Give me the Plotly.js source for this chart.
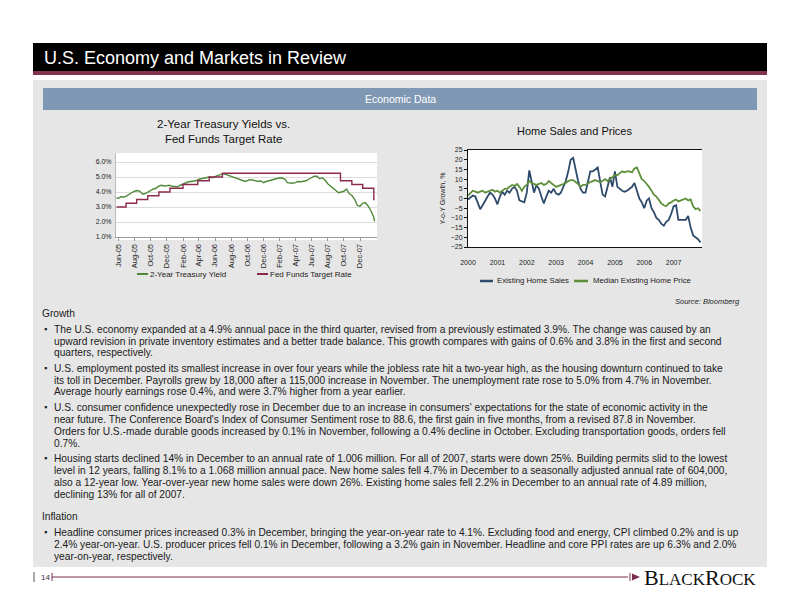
<!DOCTYPE html>
<html>
<head>
<meta charset="utf-8">
<script src="https://cdn.plot.ly/plotly-3.0.1.min.js"></script>
<style>html,body{margin:0;padding:0;background:#fff;}#chart{width:792px;height:612px;}</style>
</head>
<body>
<div id="chart"></div>
<script>
// ---------- Data: 2-Year Treasury vs Fed Funds ----------
const tsyDates = ["2005-05-25","2005-06-01","2005-06-11","2005-06-21","2005-07-01","2005-07-11","2005-07-21","2005-08-01","2005-08-11","2005-08-21","2005-09-01","2005-09-11","2005-09-21","2005-10-01","2005-10-11","2005-10-21","2005-11-01","2005-11-11","2005-11-21","2005-12-01","2005-12-11","2005-12-21","2006-01-01","2006-01-11","2006-01-21","2006-02-01","2006-02-11","2006-02-21","2006-03-01","2006-03-11","2006-03-21","2006-04-01","2006-04-11","2006-04-21","2006-05-01","2006-05-11","2006-05-21","2006-06-01","2006-06-11","2006-06-21","2006-07-01","2006-07-11","2006-07-21","2006-08-01","2006-08-11","2006-08-21","2006-09-01","2006-09-11","2006-09-21","2006-10-01","2006-10-11","2006-10-21","2006-11-01","2006-11-11","2006-11-21","2006-12-01","2006-12-11","2006-12-21","2007-01-01","2007-01-11","2007-01-21","2007-02-01","2007-02-11","2007-02-21","2007-03-01","2007-03-11","2007-03-21","2007-04-01","2007-04-11","2007-04-21","2007-05-01","2007-05-11","2007-05-21","2007-06-01","2007-06-11","2007-06-21","2007-07-01","2007-07-11","2007-07-21","2007-08-01","2007-08-11","2007-08-21","2007-09-01","2007-09-11","2007-09-21","2007-10-01","2007-10-11","2007-10-21","2007-11-01","2007-11-11","2007-11-21","2007-12-01","2007-12-11","2007-12-21","2008-01-01","2008-01-11","2008-01-21","2008-01-25"];
const tsyYield = [3.60,3.58,3.70,3.65,3.72,3.85,3.95,4.05,4.10,4.05,3.85,3.90,4.00,4.15,4.20,4.25,4.40,4.45,4.40,4.42,4.45,4.38,4.38,4.35,4.45,4.55,4.62,4.68,4.70,4.72,4.75,4.85,4.88,4.92,4.95,5.00,4.95,5.02,5.05,5.15,5.22,5.18,5.12,5.05,5.00,4.90,4.85,4.80,4.72,4.75,4.82,4.80,4.75,4.70,4.75,4.62,4.70,4.75,4.82,4.85,4.90,4.95,4.92,4.85,4.62,4.60,4.58,4.62,4.70,4.68,4.72,4.75,4.85,4.95,5.05,5.05,4.88,4.95,4.80,4.55,4.40,4.20,4.10,3.95,4.00,4.05,4.20,3.90,3.75,3.50,3.10,3.05,3.25,3.30,3.05,2.75,2.35,2.05];
const fedDates = ["2005-05-25","2005-06-30","2005-08-09","2005-09-20","2005-11-01","2005-12-13","2006-01-31","2006-03-28","2006-05-10","2006-06-29","2007-09-18","2007-10-31","2007-12-11","2008-01-22","2008-01-25"];
const fedRate = [3.00,3.25,3.50,3.75,4.00,4.25,4.50,4.75,5.00,5.25,4.75,4.50,4.25,3.50,3.50];
const leftTickVals = ["2005-06-01","2005-08-01","2005-10-01","2005-12-01","2006-02-01","2006-04-01","2006-06-01","2006-08-01","2006-10-01","2006-12-01","2007-02-01","2007-04-01","2007-06-01","2007-08-01","2007-10-01","2007-12-01"];
const leftTickText = ["Jun-05","Aug-05","Oct-05","Dec-05","Feb-06","Apr-06","Jun-06","Aug-06","Oct-06","Dec-06","Feb-07","Apr-07","Jun-07","Aug-07","Oct-07","Dec-07"];

// ---------- Data: Home Sales and Prices (Y-o-Y %) ----------
const months = ["2000-01-01","2000-02-01","2000-03-01","2000-04-01","2000-05-01","2000-06-01","2000-07-01","2000-08-01","2000-09-01","2000-10-01","2000-11-01","2000-12-01",
"2001-01-01","2001-02-01","2001-03-01","2001-04-01","2001-05-01","2001-06-01","2001-07-01","2001-08-01","2001-09-01","2001-10-01","2001-11-01","2001-12-01",
"2002-01-01","2002-02-01","2002-03-01","2002-04-01","2002-05-01","2002-06-01","2002-07-01","2002-08-01","2002-09-01","2002-10-01","2002-11-01","2002-12-01",
"2003-01-01","2003-02-01","2003-03-01","2003-04-01","2003-05-01","2003-06-01","2003-07-01","2003-08-01","2003-09-01","2003-10-01","2003-11-01","2003-12-01",
"2004-01-01","2004-02-01","2004-03-01","2004-04-01","2004-05-01","2004-06-01","2004-07-01","2004-08-01","2004-09-01","2004-10-01","2004-11-01","2004-12-01",
"2005-01-01","2005-02-01","2005-03-01","2005-04-01","2005-05-01","2005-06-01","2005-07-01","2005-08-01","2005-09-01","2005-10-01","2005-11-01","2005-12-01",
"2006-01-01","2006-02-01","2006-03-01","2006-04-01","2006-05-01","2006-06-01","2006-07-01","2006-08-01","2006-09-01","2006-10-01","2006-11-01","2006-12-01",
"2007-01-01","2007-02-01","2007-03-01","2007-04-01","2007-05-01","2007-06-01","2007-07-01","2007-08-01","2007-09-01","2007-10-01","2007-11-01","2007-12-01"];
const existingSales = [-0.5,0.5,1.5,1,-2,-5.5,-3.5,-1,1,3,2,0,
-3,1,3.5,2,4,3,5,6,4,-1,-1.5,-2,
3,14.5,9,3,7,5,1,-2.5,1,4,3,5,
2.5,2,3,6,9,14,20,21,14,9,5,3,
3,9,14,14,15,16,9,2,1,6,11,6,
14,6,5,4,3.5,4,5,6,8,4,0,-2,
-5,-1,0,-5,-7,-10,-11,-13,-14,-12,-11,-8,
-4,-3.5,-11,-11,-11,-11,-9,-15,-19,-20,-21,-22.6];
const medianPrice = [1.5,3,4,3.5,3,3.5,4,3,3.5,4,4.5,3.5,
4,3,4,5,5,6,7,6.5,7.5,6,4,6,
7,9,8,7.5,7,7.5,8,7,7.5,9,8,7,
6,6.5,7,7.5,8,9,9.5,9.5,8.5,7.5,6,7,
7,8,8.5,9,9.5,9,8.5,9,10,9,10,11,
12,12,13,14,13.5,14,14,13.5,15.5,16,13,10,
9,7.5,6,4,2,1,-1,-2.5,-3.5,-4,-2.5,-2,
-1,-0.5,-1.5,-1,-0.5,0,-1,-0.5,-4,-5.5,-5,-6.5];
const rightTickVals = ["2000-01-01","2001-01-01","2002-01-01","2003-01-01","2004-01-01","2005-01-01","2006-01-01","2007-01-01"];
const rightTickText = ["2000","2001","2002","2003","2004","2005","2006","2007"];

// ---------- Text ----------
const pageTitle = "U.S. Economy and Markets in Review";
const sectionTitle = "Economic Data";
const leftTitle = "2-Year Treasury Yields vs.<br>Fed Funds Target Rate";
const rightTitle = "Home Sales and Prices";
const seriesNames = ["2-Year Treasury Yield","Fed Funds Target Rate","Existing Home Sales","Median Existing Home Price"];
const paragraphs = [
 {head:"Growth"},
 {lines:["The U.S. economy expanded at a 4.9% annual pace in the third quarter, revised from a previously estimated 3.9%. The change was caused by an",
  "upward revision in private inventory estimates and a better trade balance. This growth compares with gains of 0.6% and 3.8% in the first and second",
  "quarters, respectively."]},
 {lines:["U.S. employment posted its smallest increase in over four years while the jobless rate hit a two-year high, as the housing downturn continued to take",
  "its toll in December. Payrolls grew by 18,000 after a 115,000 increase in November. The unemployment rate rose to 5.0% from 4.7% in November.",
  "Average hourly earnings rose 0.4%, and were 3.7% higher from a year earlier."]},
 {lines:["U.S. consumer confidence unexpectedly rose in December due to an increase in consumers' expectations for the state of economic activity in the",
  "near future. The Conference Board's Index of Consumer Sentiment rose to 88.6, the first gain in five months, from a revised 87.8 in November.",
  "Orders for U.S.-made durable goods increased by 0.1% in November, following a 0.4% decline in October. Excluding transportation goods, orders fell",
  "0.7%."]},
 {lines:["Housing starts declined 14% in December to an annual rate of 1.006 million. For all of 2007, starts were down 25%. Building permits slid to the lowest",
  "level in 12 years, falling 8.1% to a 1.068 million annual pace. New home sales fell 4.7% in December to a seasonally adjusted annual rate of 604,000,",
  "also a 12-year low. Year-over-year new home sales were down 26%. Existing home sales fell 2.2% in December to an annual rate of 4.89 million,",
  "declining 13% for all of 2007."]},
 {head:"Inflation"},
 {lines:["Headline consumer prices increased 0.3% in December, bringing the year-on-year rate to 4.1%. Excluding food and energy, CPI climbed 0.2% and is up",
  "2.4% year-on-year. U.S. producer prices fell 0.1% in December, following a 3.2% gain in November. Headline and core PPI rates are up 6.3% and 2.0%",
  "year-on-year, respectively."]}
];

// ---------- Layout helpers ----------
const W = 792, H = 612;
const px = x => x / W;
const py = y => 1 - y / H;
const FONT = "Liberation Sans, Arial, sans-serif";
const BODY = 10.2;
const C_GREEN = "#4e8a38", C_MAROON = "#8c2a4c", C_BLUE = "#2f4b6b", C_GREEN2 = "#5e8f3a";

function rect(x0,y0,x1,y1,fill){return {type:"rect",xref:"paper",yref:"paper",x0:px(x0),x1:px(x1),y0:py(y1),y1:py(y0),fillcolor:fill,line:{width:0},layer:"below"};}
function hline(x0,x1,y,color,w){return {type:"line",xref:"paper",yref:"paper",x0:px(x0),x1:px(x1),y0:py(y),y1:py(y),line:{color:color,width:w||1},layer:"above"};}
function vline(x,y0,y1,color,w){return {type:"line",xref:"paper",yref:"paper",x0:px(x),x1:px(x),y0:py(y0),y1:py(y1),line:{color:color,width:w||1},layer:"above"};}
function ann(text,x,y,o){o=o||{};return Object.assign({text:text,x:px(x),y:py(y),xref:"paper",yref:"paper",showarrow:false,xanchor:"left",yanchor:"middle",align:"left",
  font:{family:FONT,size:BODY,color:"#1a1a1a"},borderpad:0},o);}

const shapes = [
  rect(33,43,767,71,"#000000"),
  rect(33,71,767,75,"#86304f"),
  rect(33,80,767,567,"#e6e6e6"),
  rect(43,88,757,110,"#7f98b4"),
  rect(116,153,377,240,"#ffffff"),
  rect(468,150,702,247,"#ffffff"),
  // left legend samples
  hline(137,148,274,C_GREEN,2), hline(257,268,274,C_MAROON,2),
  // right legend samples
  hline(480,493,281,C_BLUE,2.5), hline(574,588,281,C_GREEN2,2.5),
  // footer
  vline(34,572,582,"#555",1), vline(52,573,581,"#7b2c4f",1),
  hline(52,628,577,"#7b2c4f",1.2),
  vline(630,573,581,"#7b2c4f",1),
  {type:"path",xref:"paper",yref:"paper",path:`M ${px(632)} ${py(573.5)} L ${px(640)} ${py(577)} L ${px(632)} ${py(580.5)} Z`,fillcolor:"#7b2c4f",line:{width:0}}
];

const annotations = [
  ann(pageTitle,43,57.5,{font:{family:FONT,size:18,color:"#ffffff"}}),
  ann(sectionTitle,400,99,{xanchor:"center",font:{family:FONT,size:10.5,color:"#ffffff"}}),
  ann(leftTitle,223,131,{xanchor:"center",align:"center",font:{family:FONT,size:11.5,color:"#111"}}),
  ann(rightTitle,574,131,{xanchor:"center",font:{family:FONT,size:11,color:"#111"}}),
  ann(seriesNames[0],149,274,{font:{family:FONT,size:8,color:"#222"}}),
  ann(seriesNames[1],269,274,{font:{family:FONT,size:8,color:"#222"}}),
  ann(seriesNames[2],496,281,{font:{family:FONT,size:7.8,color:"#222"}}),
  ann(seriesNames[3],592,281,{font:{family:FONT,size:7.8,color:"#222"}}),
  ann("<i>Source: Bloomberg</i>",741,301,{xanchor:"right",font:{family:FONT,size:7.5,color:"#222"}}),
  ann("14",40,577,{font:{family:FONT,size:8,color:"#333"}}),
  ann("B<span style='font-size:17px'>LACK</span>R<span style='font-size:17px'>OCK</span>",757,577,{xanchor:"right",font:{family:"Liberation Serif, serif",size:22,color:"#111"}})
];

// body text positions
const heads = {0:313, 5:516};
const paraStarts = {1:329, 2:368, 3:407, 4:458, 6:532};
paragraphs.forEach((p,i)=>{
  if(p.head){annotations.push(ann(p.head,41,heads[i]));}
  else{
    const y0 = paraStarts[i];
    annotations.push(ann("▪",43,y0,{font:{family:FONT,size:9,color:"#1a1a1a"}}));
    p.lines.forEach((ln,k)=>annotations.push(ann(ln,53,y0+12*k)));
  }
});

const traces = [
  {x:tsyDates,y:tsyYield,name:seriesNames[0],type:"scatter",mode:"lines",line:{color:C_GREEN,width:1.4},xaxis:"x",yaxis:"y"},
  {x:fedDates,y:fedRate,name:seriesNames[1],type:"scatter",mode:"lines",line:{color:C_MAROON,width:1.4,shape:"hv"},xaxis:"x",yaxis:"y"},
  {x:months,y:existingSales,name:seriesNames[2],type:"scatter",mode:"lines",line:{color:C_BLUE,width:1.8},xaxis:"x2",yaxis:"y2"},
  {x:months,y:medianPrice,name:seriesNames[3],type:"scatter",mode:"lines",line:{color:C_GREEN2,width:1.8},xaxis:"x2",yaxis:"y2"}
];

const layout = {
  width:W,height:H,margin:{l:0,r:0,t:0,b:0},
  paper_bgcolor:"#ffffff",plot_bgcolor:"rgba(0,0,0,0)",
  showlegend:false,
  font:{family:FONT,color:"#222"},
  xaxis:{domain:[px(116),px(377)],type:"date",range:["2005-05-23","2008-02-03"],
    tickmode:"array",tickvals:leftTickVals,ticktext:leftTickText,tickangle:-90,
    tickfont:{size:7.5,color:"#222"},showgrid:false,zeroline:false,showline:true,linecolor:"#999",linewidth:1,
    ticks:"outside",ticklen:3,tickcolor:"#999",anchor:"y"},
  yaxis:{domain:[py(237),py(153)],range:[1,6.6],tickvals:[1,2,3,4,5,6],ticktext:["1.0%","2.0%","3.0%","4.0%","5.0%","6.0%"],
    tickfont:{size:7,color:"#222"},showgrid:true,gridcolor:"#dcdcdc",gridwidth:1,zeroline:false,showline:true,linecolor:"#bbb",
    ticks:"outside",ticklen:2,tickcolor:"rgba(0,0,0,0)",anchor:"x"},
  xaxis2:{domain:[px(468),px(702)],type:"date",range:["2000-01-01","2007-12-20"],
    tickmode:"array",tickvals:rightTickVals,ticktext:rightTickText,tickfont:{size:7,color:"#222"},
    showgrid:false,zeroline:false,showline:true,linecolor:"#111",linewidth:1,mirror:true,
    ticks:"outside",ticklen:9,tickcolor:"rgba(0,0,0,0)",anchor:"y2"},
  yaxis2:{domain:[py(247),py(150)],range:[-25,25],dtick:5,tick0:-25,tickfont:{size:7,color:"#222"},
    title:{text:"Y-o-Y Growth, %",font:{size:7,color:"#222"},standoff:4},
    showgrid:false,zeroline:false,showline:true,linecolor:"#111",linewidth:1,
    ticks:"outside",ticklen:3,tickcolor:"#111",anchor:"x2"},
  shapes:shapes,
  annotations:annotations
};

Plotly.newPlot("chart",traces,layout,{displayModeBar:false,staticPlot:true});
</script>
</body>
</html>
